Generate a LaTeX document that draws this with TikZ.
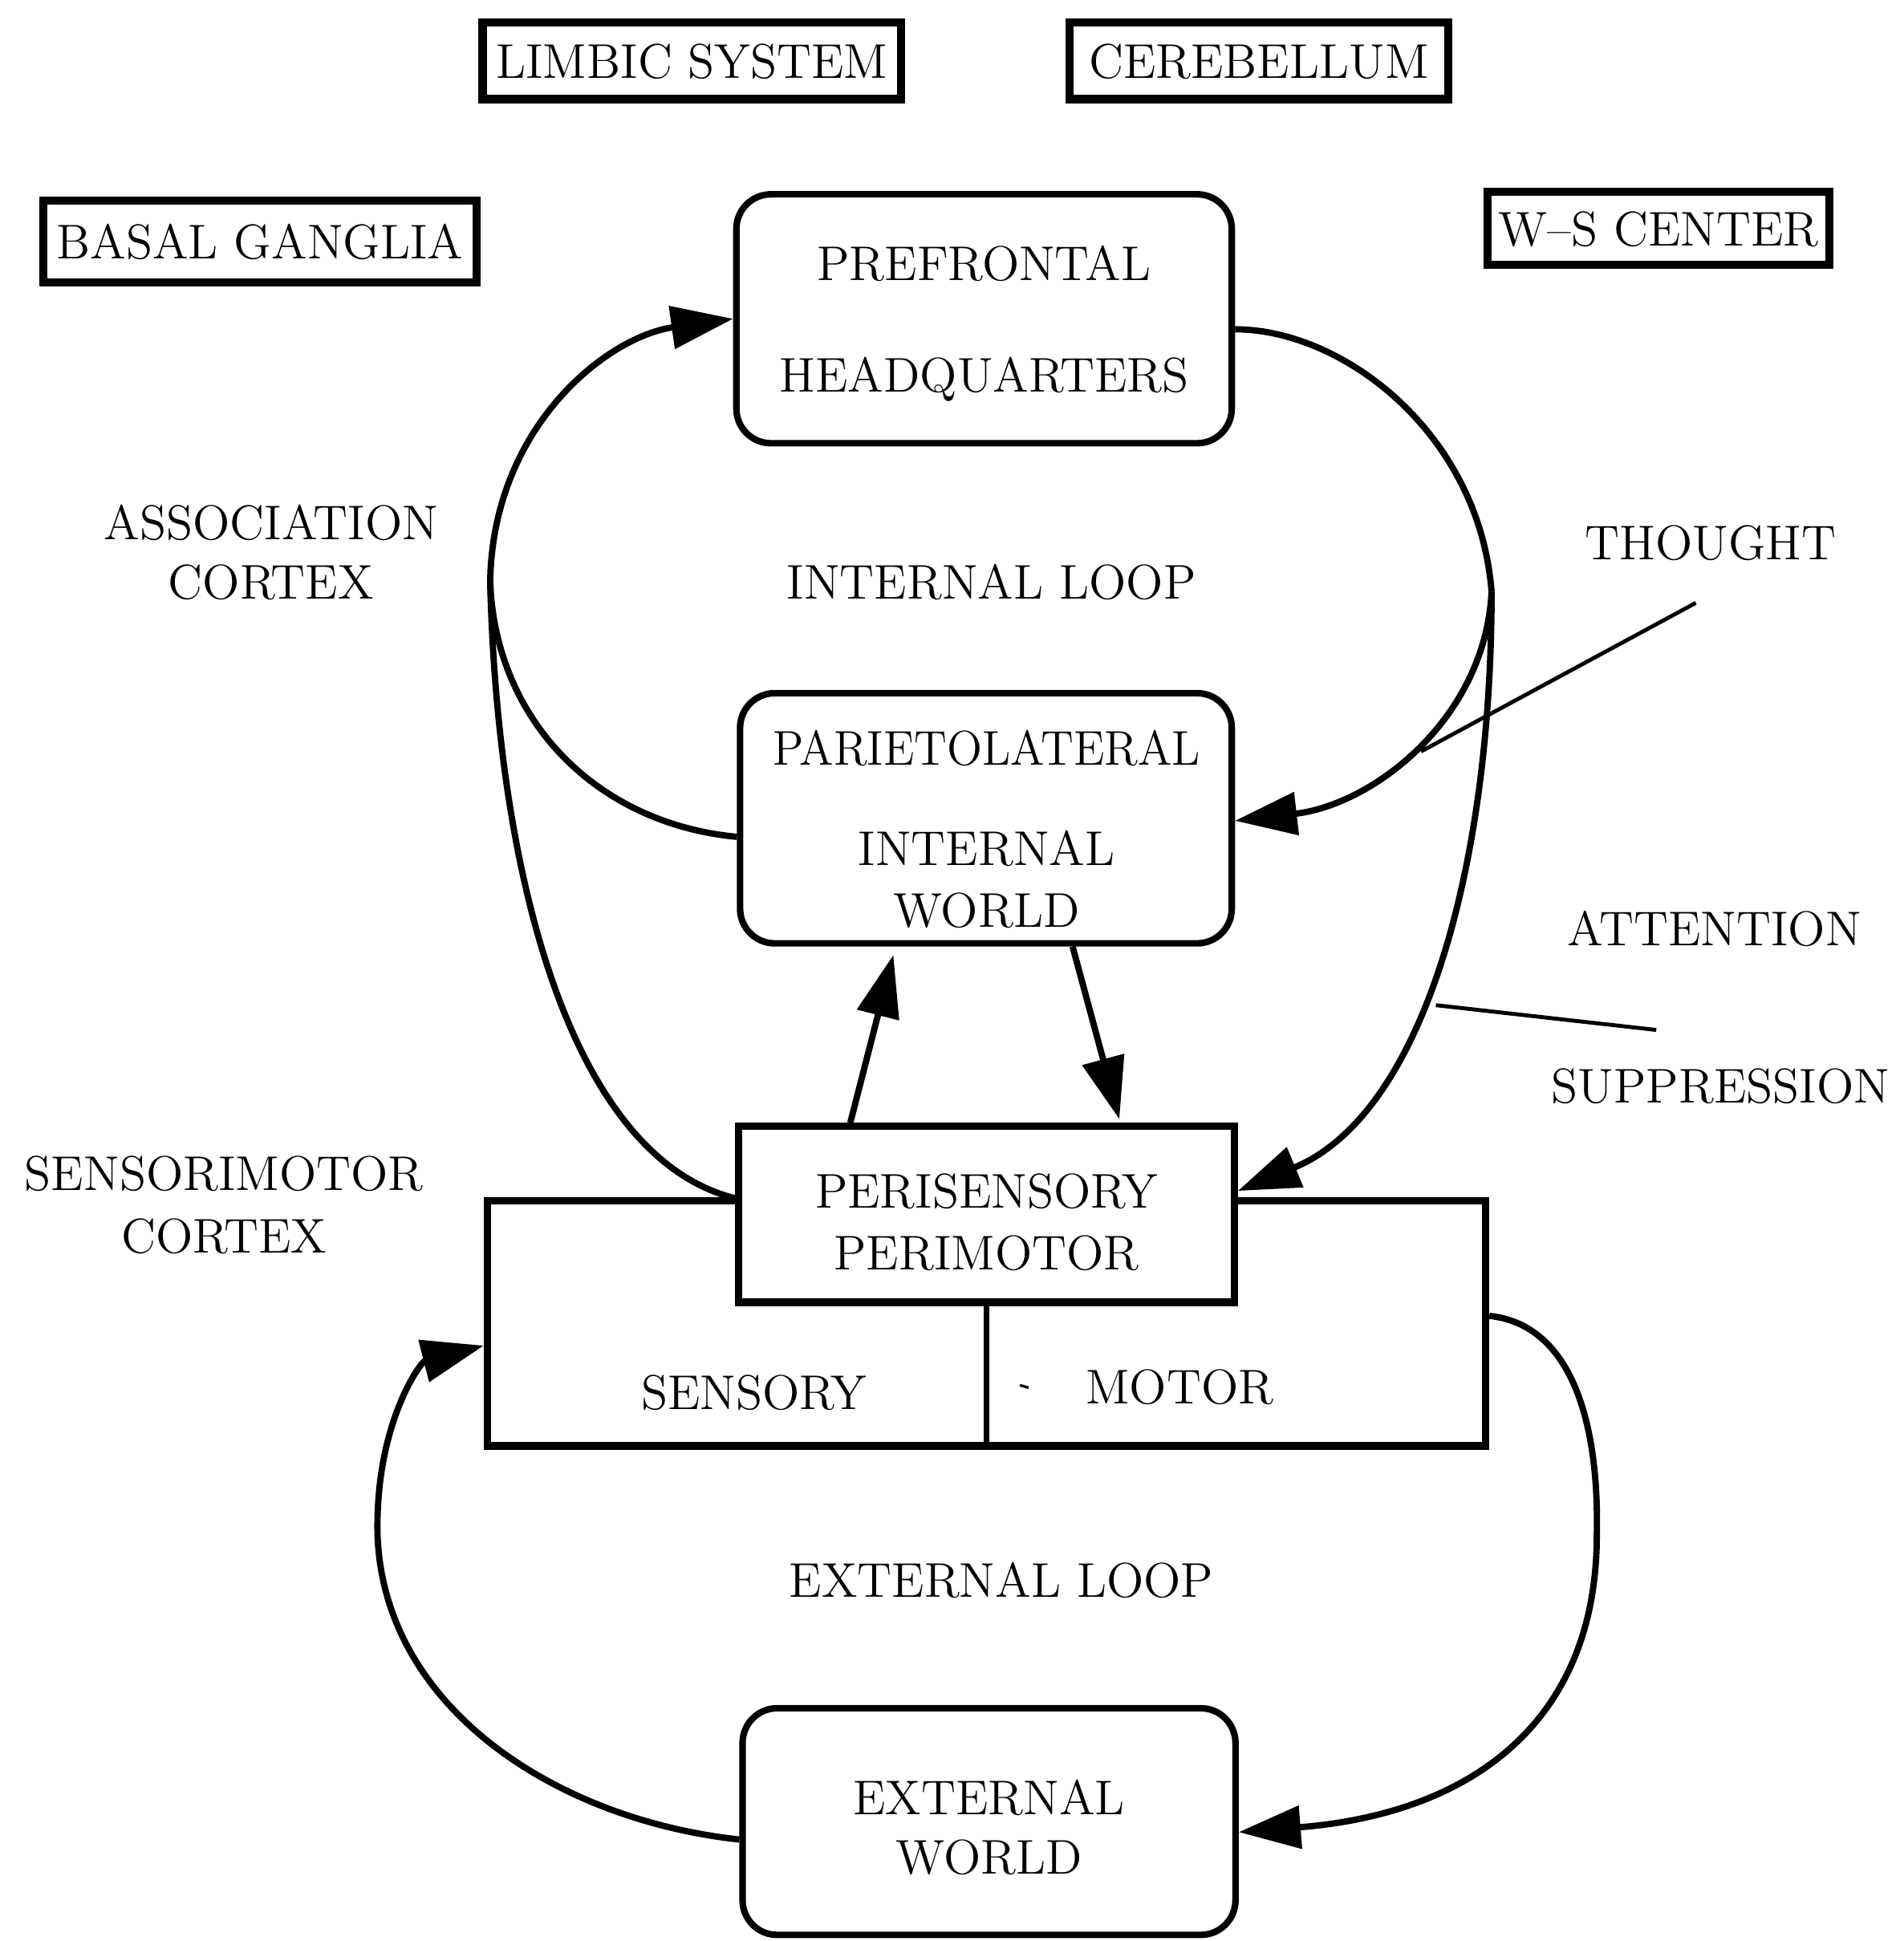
\documentclass[tikz,border=0pt]{standalone}
\usetikzlibrary{arrows.meta}
\newcommand\lblfont{\fontsize{11.2}{13.6}\selectfont}
\begin{document}
\begin{tikzpicture}[x=0.01cm,y=-0.01cm,
  every node/.style={font=\lblfont, inner sep=0pt, text depth=0pt},
  tagbox/.style={draw, line width=1.9pt},
  rbox/.style={draw, line width=1.5pt, rounded corners=0.28cm, fill=white},
  sbox/.style={draw, line width=1.7pt, fill=white},
  conn/.style={line width=1.45pt},
  arr/.style={conn, -{Triangle[length=0.5cm,width=0.34cm]}},
  pointer/.style={line width=0.9pt}
]
\useasboundingbox (0,0) rectangle (1538,1568);

% tag boxes
\node[tagbox, minimum width=3.38cm, minimum height=0.62cm] (limbic) at (559,49) {LIMBIC SYSTEM};
\node[tagbox, minimum width=3.06cm, minimum height=0.62cm] (cereb) at (1017,49) {CEREBELLUM};
\node[tagbox, minimum width=3.50cm, minimum height=0.66cm] (basal) at (210,195) {BASAL GANGLIA};
\node[tagbox, minimum width=2.76cm, minimum height=0.59cm] (ws) at (1340,184.5) {W--S CENTER};

% main boxes
\node[rbox, minimum width=4cm, minimum height=2.01cm, align=center] (pf) at (795,257.5) {PREFRONTAL\\[11.9pt]HEADQUARTERS};
\node[rbox, minimum width=3.97cm, minimum height=2.02cm] (pariet) at (796.5,661) {};
\node[align=center] (parietT) at (797,669.5) {\scalebox{0.95}[1]{PARIETOLATERAL}\\[9.4pt]INTERNAL\\[0.6pt]WORLD};

\node[sbox, minimum width=8.06cm, minimum height=1.98cm] (sm) at (797,1069) {};
\node[sbox, minimum width=4cm, minimum height=1.42cm, align=center, text height=25.3pt] (peri) at (797,981) {PERISENSORY\\[0.6pt]PERIMOTOR};
\draw[line width=1.3pt] (peri.south) -- (peri.south |- sm.south);
\node (sens) at (609,1125) {SENSORY};
\node (motor) at (953,1120) {MOTOR};
\draw[line width=0.6pt] (824,1119) -- (831,1121);

\node[rbox, minimum width=3.98cm, minimum height=1.83cm, align=center, text height=24.1pt] (ext) at (799,1471.5) {EXTERNAL\\WORLD};

% labels
\node[align=center] (assoc) at (219,446) {ASSOCIATION\\CORTEX};
\node (intloop) at (801,470) {INTERNAL LOOP};
\node (thought) at (1382,438) {THOUGHT};
\node (attn) at (1385,750) {ATTENTION};
\node (supp) at (1390,877) {SUPPRESSION};
\node[align=center] (smc) at (181,973) {SENSORIMOTOR\\[0.6pt]CORTEX};
\node (extloop) at (809,1276) {EXTERNAL LOOP};

% internal loop connectors
\coordinate (JL) at (396,470);
\coordinate (JR) at (1205,478);
\draw[arr] (JL) .. controls (398,345) and (490,272) .. (pf.west);
\draw[conn] ([yshift=-0.15cm]pariet.west) .. controls (480,665) and (400,580) .. (JL);
\draw[conn] (JL) .. controls (402,710) and (462,935) .. ([yshift=0.13cm]peri.west);
\draw[conn] ([yshift=-0.085cm]pf.east) .. controls (1085,266) and (1195,350) .. (JR);
\draw[arr] (JR) .. controls (1200,580) and (1110,650) .. ([yshift=-0.02cm]pariet.east);
\draw[arr] (JR) .. controls (1205,700) and (1150,900) .. ([yshift=0.19cm]peri.east);

% middle arrows
\draw[arr, shorten >=0.07cm] ([xshift=-1.1cm]peri.north) -- ([xshift=-0.73cm]pariet.south);
\draw[arr, shorten >=0.03cm] ([xshift=0.7cm]pariet.south) -- ([xshift=1.08cm]peri.north);

% external loop
\draw[arr] ([yshift=-0.145cm]ext.west) .. controls (450,1470) and (310,1380) .. (305,1240)
   .. controls (303,1150) and (340,1100) .. ([yshift=-0.18cm]sm.west);
\draw[arr] ([yshift=0.06cm]sm.east) .. controls (1270,1070) and (1292,1150) .. (1290,1240)
   .. controls (1290,1390) and (1190,1465) .. ([yshift=-0.085cm]ext.east);

% pointer lines
\coordinate (thA) at (1370,487);
\coordinate (thB) at (1148,607);
\draw[pointer] (thA) -- (thB);
\coordinate (atA) at (1160,812);
\coordinate (atB) at (1338,832);
\draw[pointer] (atA) -- (atB);
\end{tikzpicture}
\end{document}
